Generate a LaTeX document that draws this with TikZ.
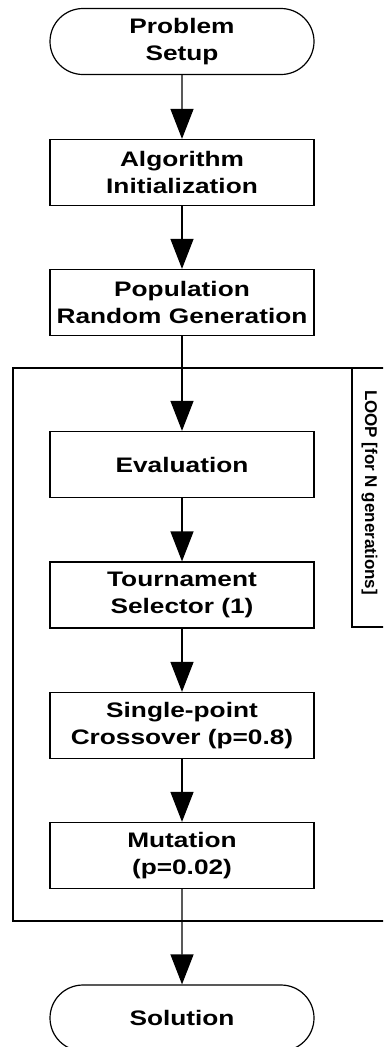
\documentclass[tikz,border=0pt]{standalone}
\usepackage{fontspec}
\newfontfamily\boxfont{Liberation Sans}[FakeStretch=1.25]
\newfontfamily\loopfont{Liberation Sans}
\usetikzlibrary{arrows.meta,shapes.misc}
\begin{document}
\begin{tikzpicture}[x=1pt,y=-1pt,
  proc/.style={draw,line width=1.2pt,minimum width=264pt,minimum height=66pt,inner sep=0pt,align=center,
    font=\boxfont\bfseries\fontsize{21}{27}\selectfont},
  term/.style={proc,rounded rectangle,rounded rectangle arc length=180},
  arr/.style={line width=1.2pt,-{Triangle[width=23pt,length=30pt]}},
  frame/.style={line width=1.2pt}]
\useasboundingbox (0,0) rectangle (383,1047);
\clip (0,0) rectangle (383,1047);
\node[term] (ps) at (182,41.5) {Problem\\Setup};
\node[proc] (ai) at (182,172.5) {Algorithm\\Initialization};
\node[proc] (pr) at (182,302.5) {Population\\Random Generation};
\node[proc] (ev) at (182,464.5) {Evaluation};
\node[proc] (ts) at (182,595) {Tournament\\Selector (1)};
\node[proc] (sc) at (182,725.5) {Single-point\\Crossover (p=0.8)};
\node[proc] (mu) at (182,855.5) {Mutation\\(p=0.02)};
\node[term] (so) at (182,1018) {Solution};
% loop frame
\coordinate (ftl) at (13,368);
\coordinate (fbr) at (395,921);
\draw[frame] (ftl) rectangle (fbr);
\coordinate (lt) at (352,368);
\coordinate (lb) at (352,627);
\coordinate (lr) at (395,627);
\draw[frame] (lt) -- (lb) -- (lr);
\node[rotate=-90,font=\loopfont\bfseries\fontsize{17}{20}\selectfont,inner sep=0pt] (loop) at (369.5,492.5) {LOOP [for N generations]};
% arrows
\draw[arr] (ps) -- (ai);
\draw[arr] (ai) -- (pr);
\draw[arr] (pr) -- (ev);
\draw[arr] (ev) -- (ts);
\draw[arr] (ts) -- (sc);
\draw[arr] (sc) -- (mu);
\draw[arr] (mu) -- (so);
\end{tikzpicture}
\end{document}
